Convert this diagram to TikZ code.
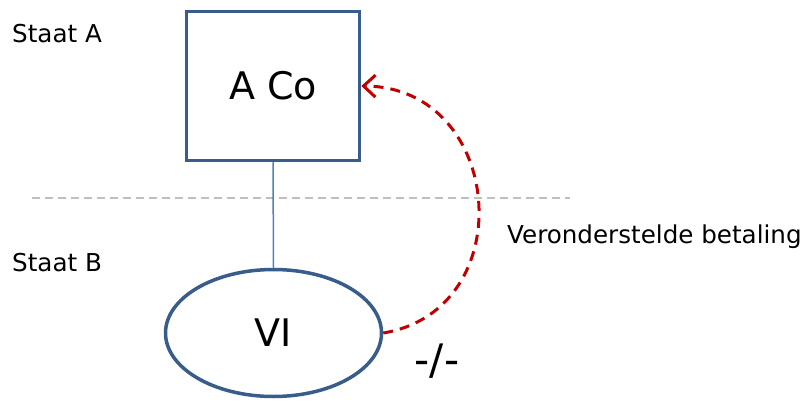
\documentclass[tikz,border=0pt]{standalone}
\usepackage{fontspec}
\setmainfont{DejaVu Sans}
\usetikzlibrary{arrows.meta,shapes.geometric}
\definecolor{boxblue}{RGB}{56,93,138}
\definecolor{lineblue}{RGB}{79,129,189}
\definecolor{arrred}{RGB}{192,0,0}
\definecolor{sepgray}{RGB}{191,191,191}
\begin{document}
\begin{tikzpicture}[x=1pt,y=-1pt,
  shapebox/.style={draw=boxblue,line width=3.5pt,minimum width=173pt,minimum height=149pt,inner sep=0pt,font=\fontsize{38}{42}\selectfont},
  shapeell/.style={draw=boxblue,line width=3.5pt,ellipse,minimum width=216pt,minimum height=127pt,inner sep=0pt,font=\fontsize{38}{42}\selectfont},
  lbl/.style={anchor=west,inner sep=0pt,font=\fontsize{24.6}{28}\selectfont},
  link/.style={draw=lineblue,line width=1.5pt},
  sep/.style={draw=sepgray,line width=1.5pt,dash pattern=on 8pt off 5pt},
  pay/.style={draw=arrred,line width=3pt,dash pattern=on 10pt off 7pt,-{Straight Barb[length=12pt,width=22pt,line width=3pt]}}
]
\useasboundingbox (0,0) rectangle (805,401);
\node[shapebox] (aco) at (273,86) {A Co};
\node[shapeell] (vi) at (273.5,333) {VI};
\node[lbl] (sa) at (12,34) {Staat A};
\node[lbl] (sb) at (12,263) {Staat B};
\node[lbl] (vb) at (507,237) {Veronderstelde betaling};
\node[inner sep=0pt,font=\fontsize{42}{46}\selectfont] (nil) at (437,361) {-/-};
\coordinate (s1) at (32,198);
\coordinate (s2) at (570,198);
\draw[sep] (s1) -- (s2);
\draw[link] (aco.south) -- (vi.north);
\draw[pay] (vi.east) .. controls (522,310) and (505,87) .. (aco.east);
\end{tikzpicture}
\end{document}
